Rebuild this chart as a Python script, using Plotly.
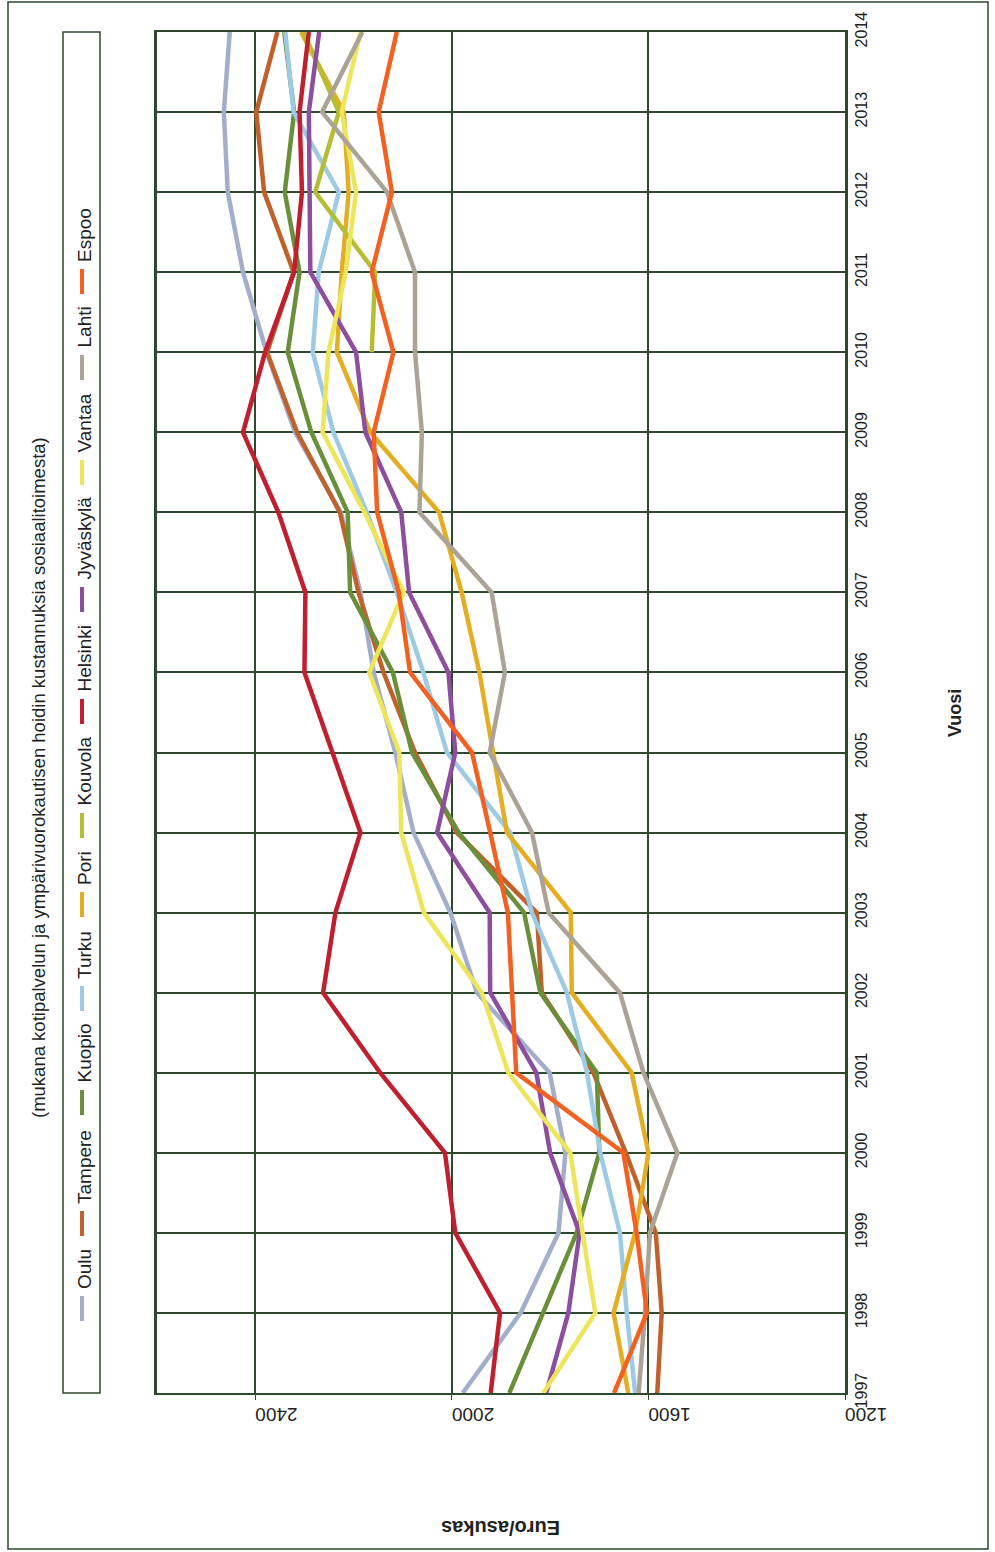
import plotly.graph_objects as go

# Vuodet
years = list(range(1997, 2015))

# Euroa / asukas, kunnittain
oulu = [1978, 1860, 1783, 1769, 1801, 1949, 2003, 2078, 2115, 2159, 2186, 2226, 2319, 2377, 2425, 2456, 2464, 2452]
tampere = [1582, 1573, 1585, 1646, 1712, 1817, 1827, 1990, 2075, 2139, 2190, 2228, 2315, 2376, 2322, 2382, 2398, 2355]
kuopio = [1883, 1815, 1746, 1700, 1705, 1820, 1853, 1986, 2081, 2120, 2207, 2212, 2286, 2334, 2310, 2340, 2321, 2341]
turku = [1627, 1644, 1658, 1698, 1725, 1766, 1837, 1881, 2010, 2058, 2112, 2173, 2241, 2283, 2271, 2230, 2322, 2339]
pori = [1641, 1671, 1627, 1600, 1634, 1756, 1758, 1888, 1916, 1944, 1980, 2026, 2166, 2234, 2224, 2210, 2220, 2307]
kouvola = [None] * 13 + [2163, 2156, 2278, 2230, 2302]
helsinki = [1921, 1902, 1993, 2014, 2146, 2262, 2237, 2186, 2243, 2300, 2298, 2353, 2425, 2380, 2321, 2305, 2310, 2291]
jyvaskyla = [1808, 1763, 1740, 1800, 1828, 1922, 1923, 2030, 1993, 2007, 2087, 2103, 2176, 2195, 2288, 2290, 2291, 2270]
vantaa = [1814, 1708, 1734, 1759, 1885, 1939, 2057, 2103, 2107, 2168, 2098, 2178, 2263, 2251, 2216, 2195, 2224, 2186]
lahti = [1620, 1607, 1597, 1541, 1610, 1658, 1803, 1837, 1923, 1892, 1919, 2066, 2061, 2075, 2075, 2132, 2264, 2182]
espoo = [1670, 1603, 1624, 1651, 1869, 1878, 1886, 1922, 1959, 2085, 2108, 2152, 2159, 2119, 2163, 2122, 2149, 2112]

series_names = ["Oulu", "Tampere", "Kuopio", "Turku", "Pori", "Kouvola",
                "Helsinki", "Jyväskylä", "Vantaa", "Lahti", "Espoo"]
series_values = [oulu, tampere, kuopio, turku, pori, kouvola,
                 helsinki, jyvaskyla, vantaa, lahti, espoo]
series_colors = ["#a3aecb", "#c0612b", "#6a8f3a", "#9ecae4", "#e3ae24", "#b5bd35",
                 "#c01f2f", "#8d4e9e", "#ede55a", "#aca397", "#f26122"]

value_ticks = [1200, 1600, 2000, 2400]

W, H = 995, 1552
L, R, T, B = 157, 845, 32, 1393
GRID = "#2d4a2d"
TXT = "#222222"
FONT = "Liberation Sans, Arial, sans-serif"


def px(x):
    return (x - L) / (R - L)


def py(y):
    return (B - y) / (B - T)


fig = go.Figure()
for name, vals, col in zip(series_names, series_values, series_colors):
    fig.add_trace(go.Scatter(x=vals, y=years, mode="lines", name=name,
                             line=dict(color=col, width=4.5),
                             connectgaps=False, showlegend=False))

fig.update_layout(
    width=W, height=H,
    margin=dict(l=L, r=W - R, t=T, b=H - B, pad=0),
    paper_bgcolor="white", plot_bgcolor="white",
    font=dict(family=FONT, color=TXT),
    xaxis=dict(range=[2600, 1200], tickvals=value_ticks, ticktext=[str(v) for v in value_ticks],
               tickangle=180, tickfont=dict(size=19, color=TXT), ticklabelstandoff=4,
               showgrid=True, gridcolor=GRID, gridwidth=1.5,
               showline=True, linecolor=GRID, linewidth=2, mirror=True,
               ticks="outside", ticklen=5, tickcolor=GRID, zeroline=False),
    yaxis=dict(range=[1997, 2014], tickvals=years, ticktext=[str(y) for y in years],
               side="right", tickangle=-90, tickfont=dict(size=16, color=TXT),
               showgrid=True, gridcolor=GRID, gridwidth=1.5,
               showline=True, linecolor=GRID, linewidth=2.5, mirror=True,
               ticks="", zeroline=False),
)

shapes = []
annotations = []

# outer frame
shapes.append(dict(type="rect", xref="paper", yref="paper",
                   x0=px(8), x1=px(988), y0=py(1549), y1=py(2),
                   line=dict(color=GRID, width=1.5), fillcolor="rgba(0,0,0,0)", layer="below"))
# legend frame
shapes.append(dict(type="rect", xref="paper", yref="paper",
                   x0=px(63), x1=px(100), y0=py(1393), y1=py(32),
                   line=dict(color=GRID, width=1.5), fillcolor="rgba(0,0,0,0)"))

# legend entries, stacked bottom to top
legend_line_bottom = [1321, 1236, 1115, 1011, 917, 838, 724, 612, 485, 380, 294]
for name, col, yb in zip(series_names, series_colors, legend_line_bottom):
    shapes.append(dict(type="line", xref="paper", yref="paper",
                       x0=px(82), x1=px(82), y0=py(yb), y1=py(yb - 25),
                       line=dict(color=col, width=4)))
    annotations.append(dict(text=name, xref="paper", yref="paper",
                            x=px(84), y=py(yb - 30), xanchor="center", yanchor="bottom",
                            textangle=-90, showarrow=False,
                            font=dict(size=19, color=TXT, family=FONT)))

annotations.append(dict(text="(mukana kotipalvelun ja ympärivuorokautisen hoidin kustannuksia sosiaalitoimesta)",
                        xref="paper", yref="paper", x=px(38), y=py(778),
                        xanchor="center", yanchor="middle", textangle=-90, showarrow=False,
                        font=dict(size=18.5, color=TXT, family=FONT)))
annotations.append(dict(text="<b>Vuosi</b>", xref="paper", yref="paper", x=px(955), y=py(713),
                        xanchor="center", yanchor="middle", textangle=-90, showarrow=False,
                        font=dict(size=18, color=TXT, family=FONT)))
annotations.append(dict(text="<b>Euro/asukas</b>", xref="paper", yref="paper",
                        x=px(501), y=py(1528),
                        xanchor="center", yanchor="middle", textangle=180, showarrow=False,
                        font=dict(size=20, color=TXT, family=FONT)))

fig.update_layout(shapes=shapes, annotations=annotations)
fig.write_html("out.html")
